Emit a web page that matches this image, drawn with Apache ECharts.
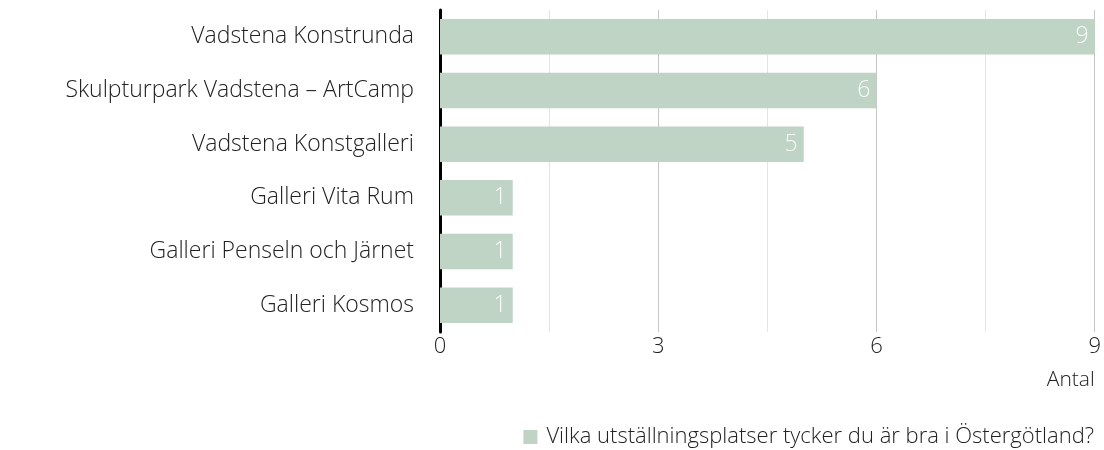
<!DOCTYPE html>
<html lang="sv">
<head>
<meta charset="UTF-8" />
<title>Utställningsplatser</title>
<script src="https://cdn.jsdelivr.net/npm/echarts@6/dist/echarts.min.js"></script>
<style>
  html, body { margin: 0; padding: 0; background: #fff; }
  #main { width: 1104px; height: 450px; }
</style>
</head>
<body>
<div id="main"></div>
<script>
// kategorier uppifrån och ned
var platser = [
    'Vadstena Konstrunda',
    'Skulpturpark Vadstena – ArtCamp',
    'Vadstena Konstgalleri',
    'Galleri Vita Rum',
    'Galleri Penseln och Järnet',
    'Galleri Kosmos'
];
var antal = [9, 6, 5, 1, 1, 1];
var serieNamn = 'Vilka utställningsplatser tycker du är bra i Östergötland?';
var axelNamn = 'Antal';

var font = '"Open Sans", sans-serif';
var vikt = 300;
var textfarg = '#222';

var myChart = echarts.init(document.getElementById('main'));

var options = {
    animation: false,
    textStyle: { fontFamily: font },
    grid: { left: 440, right: 7, top: 10, height: 322 },
    legend: {
        data: [serieNamn],
        right: 5,
        top: 421,
        icon: 'rect',
        itemWidth: 14,
        itemHeight: 14,
        itemGap: 10,
        textStyle: { fontSize: 22, color: textfarg, fontWeight: vikt, fontFamily: font, padding: [0, 0, 0, 4] }
    },
    xAxis: {
        type: 'value',
        min: 0,
        max: 9,
        interval: 1.5,
        name: axelNamn,
        nameLocation: 'end',
        nameGap: 0,
        nameTextStyle: {
            fontSize: 21, color: textfarg, fontWeight: vikt,
            align: 'right', verticalAlign: 'top', padding: [38, 0, 0, 0]
        },
        axisLine: { show: false },
        axisTick: { show: false },
        axisLabel: {
            fontSize: 22, color: textfarg, fontWeight: vikt, margin: 4,
            formatter: function (v) { return v % 3 === 0 ? String(v) : ''; }
        },
        splitLine: { lineStyle: { color: ['#c6c6c6', '#e4e4e4'], width: 1 } }
    },
    yAxis: {
        type: 'category',
        inverse: true,
        data: platser,
        axisLine: { show: true, lineStyle: { color: '#000', width: 3 } },
        axisTick: { show: false },
        axisLabel: { fontSize: 23, color: textfarg, fontWeight: vikt, margin: 26 }
    },
    series: [{
        name: serieNamn,
        type: 'bar',
        data: antal,
        barCategoryGap: '34%',
        itemStyle: { color: '#bfd4c5' },
        label: {
            show: true,
            position: 'insideRight',
            distance: 6,
            color: 'rgba(255,255,255,0.9)',
            fontSize: 23,
            fontWeight: vikt
        }
    }]
};

myChart.setOption(options);
</script>
</body>
</html>
